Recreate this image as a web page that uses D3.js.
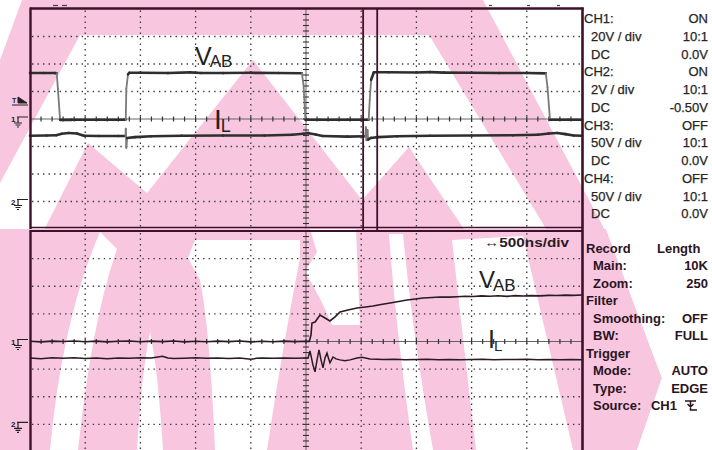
<!DOCTYPE html>
<html><head><meta charset="utf-8">
<script src="https://cdn.jsdelivr.net/npm/d3@7"></script>
<style>html,body{margin:0;padding:0;background:#fff}svg{display:block}</style>
</head><body>
<svg id="scope" width="712" height="450"></svg>
<script>
// ---------- acquisition data ----------
// Main window: time in µs (20 µs/div), CH1 = V_AB in volts, CH2 = I_L probe in volts
const vabMain = [[-100,33.4],[-95,33.5],[-91,33.4],[-90.3,33.2],[-89.9,22],[-89.1,-0.6],[-85,-0.6],[-75,-0.5],[-66,-0.5],
  [-65.3,-0.4],[-65.1,22],[-64.5,32.4],[-64.0,33.6],[-60,33.6],[-50,33.4],[-42,33.9],[-38,33.5],[-30,33.4],[-20,33.6],
  [-10,33.4],[-1.5,33.3],[-0.9,25],[-0.2,-0.6],[5,-0.5],[15,-0.5],[22.7,-0.5],[23.1,14],[23.6,28.5],[24.6,34.0],[30,34.0],
  [40,33.8],[45,34.1],[50,33.7],[60,33.6],[70,33.5],[80,33.4],[86.9,33.2],[87.5,23],[88.4,-0.5],[95,-0.5],[100,-0.6]];
const ilMain = [[-100,4.78],[-94,4.8],[-90.5,4.82],[-88.5,4.93],[-86,4.98],[-83,4.95],[-80.5,4.78],[-75,4.76],[-68,4.76],
  [-65.4,4.76],[-65.3,5.3],[-65.1,3.9],[-64.8,4.62],[-62,4.68],[-56,4.75],[-45,4.78],[-30,4.8],[-15,4.8],[-5,4.85],[-1,4.93],
  [1,4.97],[3.5,4.87],[6,4.76],[15,4.72],[21.5,4.74],[21.7,5.4],[21.9,4.45],[22.3,5.2],[22.5,4.5],[23.5,4.62],[26,4.68],
  [33,4.74],[45,4.78],[60,4.8],[75,4.82],[84,4.85],[88,4.95],[91,4.98],[94,4.9],[97,4.8],[100,4.78]];

// Zoom window: time in ns (500 ns/div) around the rising edge of V_AB
const vabZoom = [[-2500,0.2],[-2400,-0.3],[-2300,0.3],[-2200,0],[-2100,0.4],[-2000,-0.2],[-1900,0.3],[-1800,-0.3],
  [-1700,0.2],[-1600,0.4],[-1500,-0.2],[-1400,0.3],[-1300,-0.1],[-1200,0.4],[-1100,-0.3],[-1000,0.2],[-900,-0.2],
  [-800,0.3],[-700,-0.1],[-600,0.4],[-500,-0.3],[-400,0.2],[-300,-0.2],[-200,0.3],[-100,-0.1],[0,0.2],[30,0.1],
  [45,4.7],[54,13.4],[82,14.1],[127,19.2],[172,17.0],[217,14.9],[263,17.8],[308,21.4],[380,22.8],[462,24.3],[540,25.0],
  [607,25.7],[680,26.8],[761,27.9],[840,29.0],[915,30.1],[990,30.8],[1060,31.5],[1140,31.9],[1214,32.2],[1300,32.1],
  [1368,32.4],[1440,32.8],[1513,32.6],[1590,33.0],[1667,32.8],[1740,33.1],[1821,32.7],[1900,33.2],[1966,32.9],
  [2040,33.2],[2120,33.0],[2200,33.4],[2274,33.3],[2350,33.6],[2420,33.4],[2500,33.7]];
const ilZoom = [[-2500,4.8],[-2400,4.76],[-2300,4.82],[-2200,4.78],[-2100,4.83],[-2000,4.77],[-1900,4.81],[-1800,4.76],
  [-1700,4.8],[-1600,4.78],[-1500,4.82],[-1400,4.8],[-1300,4.93],[-1250,4.8],[-1200,4.77],[-1100,4.79],[-1000,4.82],
  [-900,4.78],[-800,4.8],[-700,4.77],[-600,4.81],[-500,4.72],[-450,4.78],[-400,4.8],[-300,4.78],[-200,4.81],[-100,4.79],
  [0,4.8],[18,4.8],[36,5.32],[63,4.3],[82,3.8],[100,4.67],[118,5.39],[136,4.67],[154,4.09],[172,4.81],[190,5.17],
  [208,4.67],[217,4.45],[236,4.74],[245,4.88],[272,4.74],[308,4.67],[353,4.6],[399,4.67],[462,4.8],[507,4.86],[580,4.74],
  [700,4.7],[800,4.72],[900,4.68],[1000,4.7],[1100,4.72],[1200,4.68],[1300,4.7],[1400,4.67],[1500,4.7],[1600,4.72],
  [1700,4.68],[1800,4.7],[1900,4.69],[2000,4.72],[2100,4.68],[2200,4.7],[2300,4.67],[2400,4.7],[2500,4.68]];

// Division boundaries of the graticule
const mainTimeDivs = [-80, -60, -40, -20, 20, 40, 60, 80];
const zoomTimeDivs = [-2000, -1500, -1000, -500, 500, 1000, 1500, 2000];
const voltDivs = [-60, -40, -20, 20, 40, 60];

// Zoom window position inside the main record (µs)
const zoomWindow = [20.7, 25.8];

// Readout panel text
const channelRows = [["CH1:","ON"],["20V/div","10:1"],["DC","0.0V"],["CH2:","ON"],["2V/div","10:1"],["DC","-0.50V"],
  ["CH3:","OFF"],["50V/div","10:1"],["DC","0.0V"],["CH4:","OFF"],["50V/div","10:1"],["DC","0.0V"]];
const settingRows = [["Record","Length",0],["Main:","10K",1],["Zoom:","250",1],["Filter","",0],["Smoothing:","OFF",1],
  ["BW:","FULL",1],["Trigger","",0],["Mode:","AUTO",1],["Type:","EDGE",1],["Source:","CH1",1]];
const timebaseLabel = "\u2194500ns/div";

// ---------- layout ----------
const svg = d3.select("#scope");
const L = 30, R = 582;
const frameColor = "#3d1129", pink = "#f8c6df";
const mainPanel = {y0: 8.5, y1: 228.5};
const zoomPanel = {y0: 231, y1: 452};
const font = "Liberation Sans, Arial, sans-serif";

const xMain = d3.scaleLinear().domain([-100, 100]).range([L, R]);
const xZoom = d3.scaleLinear().domain([-2500, 2500]).range([L, R]);
const ch1Main = d3.scaleLinear().domain([-80, 80]).range([229, 9]);
const ch2Main = d3.scaleLinear().domain([-2, 14]).range([229, 9]);
const ch1Zoom = d3.scaleLinear().domain([-80, 80]).range([zoomPanel.y1, zoomPanel.y0]);
const ch2Zoom = d3.scaleLinear().domain([-2, 14]).range([zoomPanel.y1, zoomPanel.y0]);

// ---------- background watermark ----------
const defs = svg.append("defs");
defs.append("clipPath").attr("id", "clipTop").append("rect").attr("width", 712).attr("height", 229);
defs.append("clipPath").attr("id", "clipBot").append("rect").attr("y", 229).attr("width", 712).attr("height", 221);
const wm = svg.append("g");
wm.append("rect").attr("width", 712).attr("height", 450).attr("fill", "#fff");

const gTop = wm.append("g").attr("clip-path", "url(#clipTop)");
gTop.append("path").attr("fill", pink)
  .attr("d", "M22,0 L483,0 L606,232 L548,232 L429,35 L80,35 L0,183 L0,60 Z");
gTop.append("path").attr("fill", pink)
  .attr("d", "M43,232 L88,143 L147,193 L253,60 L362,200 L409,147 L466,232 Z");

const gBot = wm.append("g").attr("clip-path", "url(#clipBot)");
gBot.append("path").attr("fill", pink)
  .attr("d", "M0,229 L606,229 L662,378 L637,450 L0,450 Z");
const whites = [
  "M100,232 L117,249 Q92,320 78,450 L50,450 Q62,320 100,232 Z",
  "M150,332 Q158,370 163,450 L137,450 Q142,370 150,332 Z",
  "M195,240 L300,240 L300,258 Q282,350 267,450 L215,450 Q210,330 200,280 L188,258 Z",
  "M310,229 L356,229 L360,325 L332,325 Q322,300 305,272 L317,252 Z",
  "M389,234 L403,234 Q412,330 433,450 L413,450 Q396,330 389,234 Z",
  "M452,240 L523,236 L573,450 L476,450 Q462,330 452,240 Z",
  "M606,229 L712,229 L712,450 L637,450 L662,378 Z"
];
gBot.selectAll("path.w").data(whites).join("path").attr("class", "w").attr("fill", "#fff").attr("d", d => d);

// ---------- graticule ----------
function graticule(x, y, xDivs, y0, y1) {
  const g = svg.append("g");
  g.selectAll("line.h").data(voltDivs).join("line").attr("class", "h")
    .attr("x1", L + 2).attr("x2", R).attr("y1", d => y(d)).attr("y2", d => y(d))
    .attr("stroke", "#3a3a3a").attr("stroke-width", 1.3).attr("stroke-dasharray", "1.4 4.12");
  g.selectAll("line.v").data(xDivs).join("line").attr("class", "v")
    .attr("y1", y0 + 2).attr("y2", y1).attr("x1", d => x(d)).attr("x2", d => x(d))
    .attr("stroke", "#3a3a3a").attr("stroke-width", 1.3).attr("stroke-dasharray", "1.4 4.1");
  // centre axes with minor ticks
  const yc = y(0), xc = x(0);
  g.append("line").attr("x1", L).attr("x2", R).attr("y1", yc).attr("y2", yc).attr("stroke", "#555").attr("stroke-width", 0.9);
  g.append("line").attr("x1", xc).attr("x2", xc).attr("y1", y0).attr("y2", y1).attr("stroke", "#555").attr("stroke-width", 0.9);
  const xt = d3.range(1, 50).map(i => L + i * (R - L) / 50);
  g.selectAll("line.xt").data(xt).join("line").attr("class", "xt").attr("x1", d => d).attr("x2", d => d)
    .attr("y1", yc - 2.5).attr("y2", yc + 2.5).attr("stroke", "#333").attr("stroke-width", 1.2);
  const yTop = y(80), ySpan = y(-80) - y(80);
  const yt = d3.range(1, 40).map(i => yTop + i * ySpan / 40).filter(d => d < y1);
  g.selectAll("line.yt").data(yt).join("line").attr("class", "yt").attr("y1", d => d).attr("y2", d => d)
    .attr("x1", xc - 3).attr("x2", xc + 3).attr("stroke", "#333").attr("stroke-width", 1.1);
}
graticule(xMain, ch1Main, mainTimeDivs, mainPanel.y0, mainPanel.y1);
graticule(xZoom, ch1Zoom, zoomTimeDivs, zoomPanel.y0, 450);

// ---------- traces ----------
function trace(data, x, y, width, color, edgeColor) {
  const pts = data.map(d => [x(d[0]), y(d[1])]);
  const steep = d => Math.abs(d[1][1] - d[0][1]) > 4 * Math.abs(d[1][0] - d[0][0]) + 3;
  svg.append("g").selectAll("line").data(d3.pairs(pts)).join("line")
    .attr("x1", d => d[0][0]).attr("y1", d => d[0][1]).attr("x2", d => d[1][0]).attr("y2", d => d[1][1])
    .attr("stroke", d => steep(d) ? edgeColor : color)
    .attr("stroke-width", d => steep(d) ? 1.8 : width)
    .attr("stroke-linecap", "round");
}
trace(ilMain, xMain, ch2Main, 2.6, "#2e2e2e", "#7a7a7a");
trace(vabMain, xMain, ch1Main, 2.6, "#2e2e2e", "#7a7a7a");
svg.append("path").datum(ilZoom)
  .attr("d", d3.line().x(d => xZoom(d[0])).y(d => ch2Zoom(d[1])))
  .attr("fill", "none").attr("stroke", "#2a1a22").attr("stroke-width", 1.5);
svg.append("path").datum(vabZoom)
  .attr("d", d3.line().x(d => xZoom(d[0])).y(d => ch1Zoom(d[1])))
  .attr("fill", "none").attr("stroke", "#2a1a22").attr("stroke-width", 1.6);

// ---------- frames ----------
const fr = svg.append("g").attr("stroke", frameColor).attr("fill", "none");
fr.append("line").attr("x1", L).attr("x2", R + 1.5).attr("y1", mainPanel.y0).attr("y2", mainPanel.y0).attr("stroke-width", 2.6);
fr.append("line").attr("x1", L + 0.5).attr("x2", L + 0.5).attr("y1", mainPanel.y0 - 1).attr("y2", 229).attr("stroke-width", 2.4);
fr.append("line").attr("x1", L).attr("x2", R).attr("y1", 227.5).attr("y2", 227.5).attr("stroke-width", 1.6);
fr.append("line").attr("x1", L).attr("x2", R).attr("y1", 231).attr("y2", 231).attr("stroke-width", 2);
fr.append("line").attr("x1", L + 0.5).attr("x2", L + 0.5).attr("y1", 230).attr("y2", 450).attr("stroke-width", 2.4);
fr.append("line").attr("x1", R + 0.5).attr("x2", R + 0.5).attr("y1", mainPanel.y0 - 1).attr("y2", 450).attr("stroke-width", 2.6);
// zoom window markers
fr.selectAll("line.zw").data(zoomWindow).join("line").attr("class", "zw")
  .attr("x1", d => xMain(d)).attr("x2", d => xMain(d)).attr("y1", mainPanel.y0).attr("y2", 231).attr("stroke-width", 1.8);
// record position marks above the main window
svg.append("g").selectAll("line").data([[53, 58], [62, 67], [489, 492], [527, 530], [557, 560]]).join("line")
  .attr("x1", d => d[0]).attr("x2", d => d[1]).attr("y1", 5.5).attr("y2", 5.5).attr("stroke", "#444").attr("stroke-width", 1.2);

// ---------- channel markers ----------
function groundMarker(label, y) {
  const g = svg.append("g");
  g.append("text").attr("x", 11).attr("y", y + 3).text(label)
    .attr("font-family", font).attr("font-size", 8).attr("font-weight", "bold").attr("fill", "#222");
  g.append("path").attr("d", `M17,${y - 2} H28 M18,${y - 2} V${y + 4} M14,${y + 4} H22 M15.5,${y + 6} H20.5 M17,${y + 8} H19`)
    .attr("stroke", "#222").attr("stroke-width", 1.2).attr("fill", "none");
}
groundMarker("1", ch1Main(0));
groundMarker("2", ch2Main(0));
groundMarker("1", ch1Zoom(0));
groundMarker("2", ch2Zoom(0));
// trigger level marker
const trigY = ch1Main(0) - 19;
svg.append("text").attr("x", 12).attr("y", trigY + 3).text("T")
  .attr("font-family", font).attr("font-size", 7).attr("font-weight", "bold").attr("fill", "#222");
svg.append("path").attr("d", `M18,${trigY - 3} L27,${trigY + 3} L18,${trigY + 3} Z M12,${trigY + 5} H28`)
  .attr("fill", "#222").attr("stroke", "#222").attr("stroke-width", 1);

// ---------- trace labels ----------
function traceLabel(main, sub, x, y, mainSize, subSize, subDx, subDy) {
  const t = svg.append("text").attr("x", x).attr("y", y).attr("font-family", font).attr("fill", "#222");
  t.append("tspan").attr("font-size", mainSize).text(main);
  t.append("tspan").attr("font-size", subSize).attr("dx", subDx).attr("dy", subDy).text(sub);
}
traceLabel("V", "AB", 195, 65, 25, 17, -2, 2);
traceLabel("I", "L", 214, 129, 28, 18, -1, 3);
traceLabel("V", "AB", 479, 288, 24, 17, -2, 3);
traceLabel("I", "L", 488, 348, 25, 15, -1, 3);

svg.append("text").attr("x", 484).attr("y", 246.5).text(timebaseLabel)
  .attr("font-family", font).attr("font-size", 12.5).attr("font-weight", "bold")
  .attr("fill", "#2a1a22").attr("textLength", 85).attr("lengthAdjust", "spacingAndGlyphs");

// ---------- readout panel ----------
const rp = svg.append("g").attr("font-family", font).attr("font-size", 13).attr("fill", "#262626")
  .attr("stroke", "#262626").attr("stroke-width", 0.25);
channelRows.forEach((r, i) => {
  const y = 23 + i * 17.75;
  const isHead = r[0].startsWith("CH");
  const t = rp.append("text").attr("x", isHead ? 584 : 591).attr("y", y);
  if (r[0].includes("/")) {
    const [a, b] = r[0].split("/");
    t.append("tspan").text(a);
    t.append("tspan").attr("dx", 3.5).text("/");
    t.append("tspan").attr("dx", 3.5).text(b);
  } else {
    t.text(r[0]);
  }
  rp.append("text").attr("x", 708).attr("y", y).attr("text-anchor", "end").text(r[1]);
});
const sp = svg.append("g").attr("font-family", font).attr("font-size", 13)
  .attr("font-weight", "bold").attr("fill", "#2a1422");
settingRows.forEach((r, i) => {
  const y = 252.5 + i * 17.5;
  if (r[2] === 0) {
    sp.append("text").attr("x", 586).attr("y", y).text(r[0]);
    if (r[1]) sp.append("text").attr("x", 657).attr("y", y).text(r[1]);
  } else {
    sp.append("text").attr("x", 593).attr("y", y).text(r[0]);
    sp.append("text").attr("x", r[1] === "CH1" ? 677 : 708).attr("y", y).attr("text-anchor", "end").text(r[1]);
  }
});
// falling-edge trigger slope symbol
const sy = 252.5 + 9 * 17.5;
svg.append("path").attr("d", `M685,${sy - 9} H696 M690.5,${sy - 9} V${sy} H697 M687.5,${sy - 6} L690.5,${sy - 3} L693.5,${sy - 6}`)
  .attr("stroke", "#2a1422").attr("stroke-width", 1.5).attr("fill", "none");
</script>
</body></html>
